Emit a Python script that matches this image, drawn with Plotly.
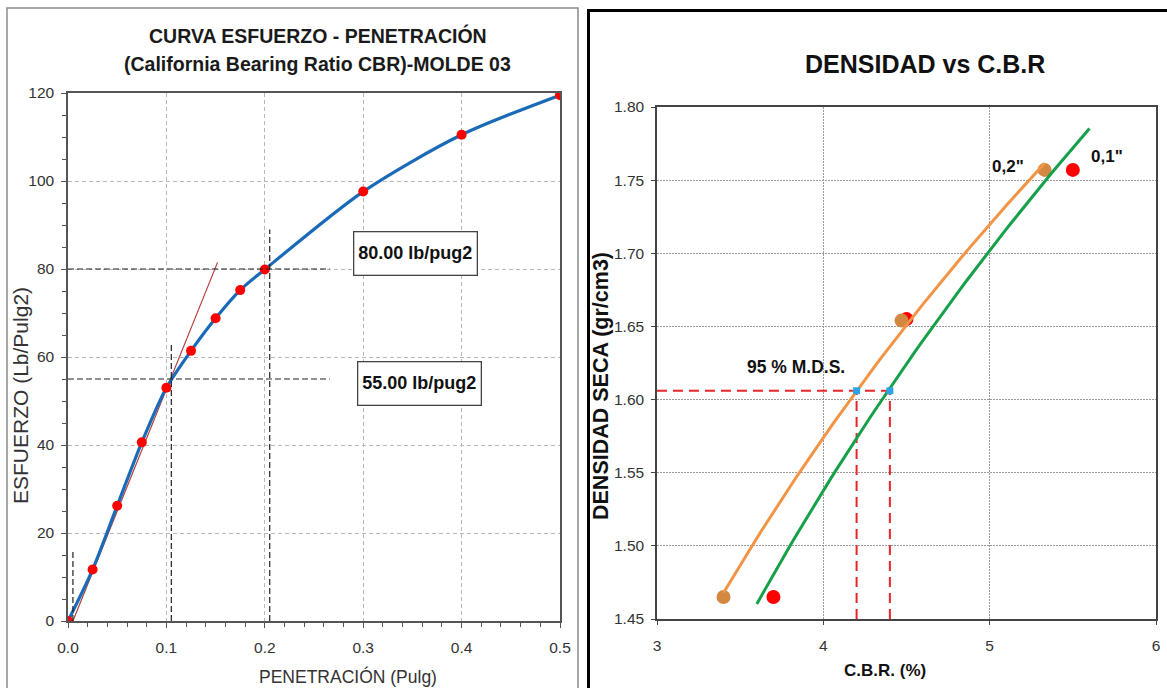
import numpy as np
import plotly.graph_objects as go

# ---------------- Stress–penetration curve (CBR, mould 03) ----------------
penetration = [0.0, 0.025, 0.05, 0.075, 0.1, 0.125, 0.15, 0.175, 0.2, 0.3, 0.4, 0.5]
stress = [0.0, 11.7, 26.2, 40.6, 53.0, 61.4, 68.8, 75.2, 79.9, 97.6, 110.5, 119.5]

# tangent used to correct the origin of the curve
tangent_pen = [0.005, 0.152]
tangent_stress = [0.0, 81.5]

# corrected readings at 0.1" and 0.2"
corr_pen = [0.105, 0.205]
corr_stress = [55.0, 80.0]
corr_top = [63.0, 89.0]
origin_shift = 0.005
origin_top = 16.0
guide_end = 0.266

# ---------------- Dry density vs CBR ----------------
cbr_02 = [3.40, 4.47, 5.33]
dens_02 = [1.465, 1.654, 1.757]
cbr_01 = [3.70, 4.50, 5.50]
dens_01 = [1.465, 1.655, 1.757]

mds_95 = 1.606
cbr_at_95 = [4.2, 4.4]


def log_trend(x, y, x0, x1):
    a, b = np.polyfit(np.log(x), y, 1)
    xs = np.linspace(x0, x1, 60)
    return xs, a * np.log(xs) + b


tr02_x, tr02_y = log_trend(cbr_02, dens_02, min(cbr_02), max(cbr_02))
tr01_x, tr01_y = log_trend(cbr_01, dens_01, min(cbr_01) - 0.1, max(cbr_01) + 0.1)

W, H = 1167, 688


def px(x):
    return x / W


def py(y):
    return 1 - y / H


FONT = "Liberation Sans, Arial, sans-serif"

fig = go.Figure()

# left chart
fig.add_trace(go.Scatter(x=tangent_pen, y=tangent_stress, mode="lines",
                         line=dict(color="#b0413a", width=1.2),
                         xaxis="x", yaxis="y", hoverinfo="skip"))
fig.add_trace(go.Scatter(x=penetration, y=stress, mode="lines+markers",
                         line=dict(color="#1b6ab8", width=3.2, shape="spline", smoothing=0.8),
                         marker=dict(color="#ff0000", size=10),
                         xaxis="x", yaxis="y"))

guide = dict(color="#222222", width=1.2, dash="6px,3px")
for yv in corr_stress:
    fig.add_trace(go.Scatter(x=[0, guide_end], y=[yv, yv], mode="lines", line=guide,
                             xaxis="x", yaxis="y", hoverinfo="skip"))
for xv, top in zip(corr_pen, corr_top):
    fig.add_trace(go.Scatter(x=[xv, xv], y=[0, top], mode="lines", line=guide,
                             xaxis="x", yaxis="y", hoverinfo="skip"))
fig.add_trace(go.Scatter(x=[origin_shift, origin_shift], y=[0, origin_top], mode="lines", line=guide,
                         xaxis="x", yaxis="y", hoverinfo="skip"))

# right chart
red_dash = dict(color="#e5262b", width=2, dash="10px,6px")
fig.add_trace(go.Scatter(x=[3, max(cbr_at_95)], y=[mds_95, mds_95], mode="lines", line=red_dash,
                         xaxis="x2", yaxis="y2", hoverinfo="skip"))
for xv in cbr_at_95:
    fig.add_trace(go.Scatter(x=[xv, xv], y=[1.45, mds_95], mode="lines", line=red_dash,
                             xaxis="x2", yaxis="y2", hoverinfo="skip"))
fig.add_trace(go.Scatter(x=cbr_01, y=dens_01, mode="markers",
                         marker=dict(color="#ff0000", size=14),
                         xaxis="x2", yaxis="y2"))
fig.add_trace(go.Scatter(x=cbr_02, y=dens_02, mode="markers",
                         marker=dict(color="#d2883f", size=14),
                         xaxis="x2", yaxis="y2"))
fig.add_trace(go.Scatter(x=tr02_x, y=tr02_y, mode="lines",
                         line=dict(color="#f29446", width=3),
                         xaxis="x2", yaxis="y2", hoverinfo="skip"))
fig.add_trace(go.Scatter(x=tr01_x, y=tr01_y, mode="lines",
                         line=dict(color="#16a04a", width=3),
                         xaxis="x2", yaxis="y2", hoverinfo="skip"))
fig.add_trace(go.Scatter(x=cbr_at_95, y=[mds_95, mds_95], mode="markers",
                         marker=dict(color="#2aa5e3", size=7, symbol="square"),
                         xaxis="x2", yaxis="y2"))

tickfont = dict(family=FONT, size=15.5, color="#333333")
grid_l = dict(showgrid=True, gridcolor="#b8b8b8", griddash="4px,3px", gridwidth=1)
grid_r = dict(showgrid=True, gridcolor="#9a9a9a", griddash="2px,1px", gridwidth=1)
common = dict(automargin=False, zeroline=False, tickfont=tickfont, showline=True,
              mirror=True, linewidth=1.5, ticks="outside")

fig.update_layout(
    width=W, height=H, margin=dict(l=0, r=0, t=0, b=0),
    paper_bgcolor="white", plot_bgcolor="white", showlegend=False,
    xaxis=dict(domain=[px(68), px(560)], range=[0, 0.5], dtick=0.1, tickformat=".1f",
               linecolor="#555555", ticklen=5, tickcolor="#555555", ticklabelstandoff=7,
               minor=dict(dtick=0.02, ticks="outside", ticklen=4, tickcolor="#555555"),
               **common, **grid_l, anchor="y"),
    yaxis=dict(domain=[py(621), py(93)], range=[0, 120], dtick=20,
               linecolor="#555555", ticklen=5, tickcolor="#555555", ticklabelstandoff=4,
               minor=dict(dtick=5, ticks="outside", ticklen=4, tickcolor="#555555"),
               **common, **grid_l, anchor="x"),
    xaxis2=dict(domain=[px(657), px(1156)], range=[3, 6], dtick=1,
                linecolor="#444444", ticklen=4, tickcolor="#444444", ticklabelstandoff=8,
                **common, **grid_r, anchor="y2"),
    yaxis2=dict(domain=[py(619), py(107)], range=[1.45, 1.80], dtick=0.05, tickformat=".2f",
                linecolor="#444444", ticklen=4, tickcolor="#444444", ticklabelstandoff=4,
                **common, **grid_r, anchor="x2"),
)

shapes = [
    dict(type="rect", xref="paper", yref="paper", x0=px(7), x1=px(578), y0=-0.02, y1=py(8),
         line=dict(color="#8a8a8a", width=1.5)),
    dict(type="rect", xref="paper", yref="paper", x0=px(588.5), x1=1.02, y0=-0.02, y1=py(10.5),
         line=dict(color="#000000", width=3)),
]
fig.update_layout(shapes=shapes)

ann = []


def text(x, y, s, size, bold=False, angle=0, color="#1a1a1a"):
    ann.append(dict(x=px(x), y=py(y), xref="paper", yref="paper", text=f"<b>{s}</b>" if bold else s,
                    showarrow=False, textangle=angle, xanchor="center", yanchor="middle",
                    font=dict(family=FONT, size=size, color=color)))


text(318, 36, "CURVA ESFUERZO - PENETRACIÓN", 19.5, bold=True)
text(318, 64, "(California Bearing Ratio CBR)-MOLDE 03", 19.5, bold=True)
text(348, 676, "PENETRACIÓN (Pulg)", 17.5, color="#333333")
text(20, 396, "ESFUERZO (Lb/Pulg2)", 21, angle=-90, color="#333333")

for lbl, xc, yc in [(f"{corr_stress[1]:.2f} lb/pug2", 415, 253), (f"{corr_stress[0]:.2f} lb/pug2", 419, 383)]:
    ann.append(dict(x=px(xc), y=py(yc), xref="paper", yref="paper", text=f"<b>{lbl}</b>",
                    showarrow=False, xanchor="center", yanchor="middle", width=118, height=38,
                    bgcolor="white", bordercolor="#444444", borderwidth=1.3, borderpad=2,
                    font=dict(family=FONT, size=18, color="#111111")))

text(925, 64, "DENSIDAD vs C.B.R", 25, bold=True, color="#111111")
text(885, 670, "C.B.R. (%)", 17, bold=True, color="#111111")
text(601, 386, "DENSIDAD SECA (gr/cm3)", 21.5, bold=True, angle=-90, color="#111111")
text(796, 367, "95 % M.D.S.", 17.5, bold=True, color="#111111")
text(1008, 166, "0,2\"", 17, bold=True, color="#111111")
text(1107, 157, "0,1\"", 17, bold=True, color="#111111")

fig.update_layout(annotations=ann)
fig.write_html("out.html")
